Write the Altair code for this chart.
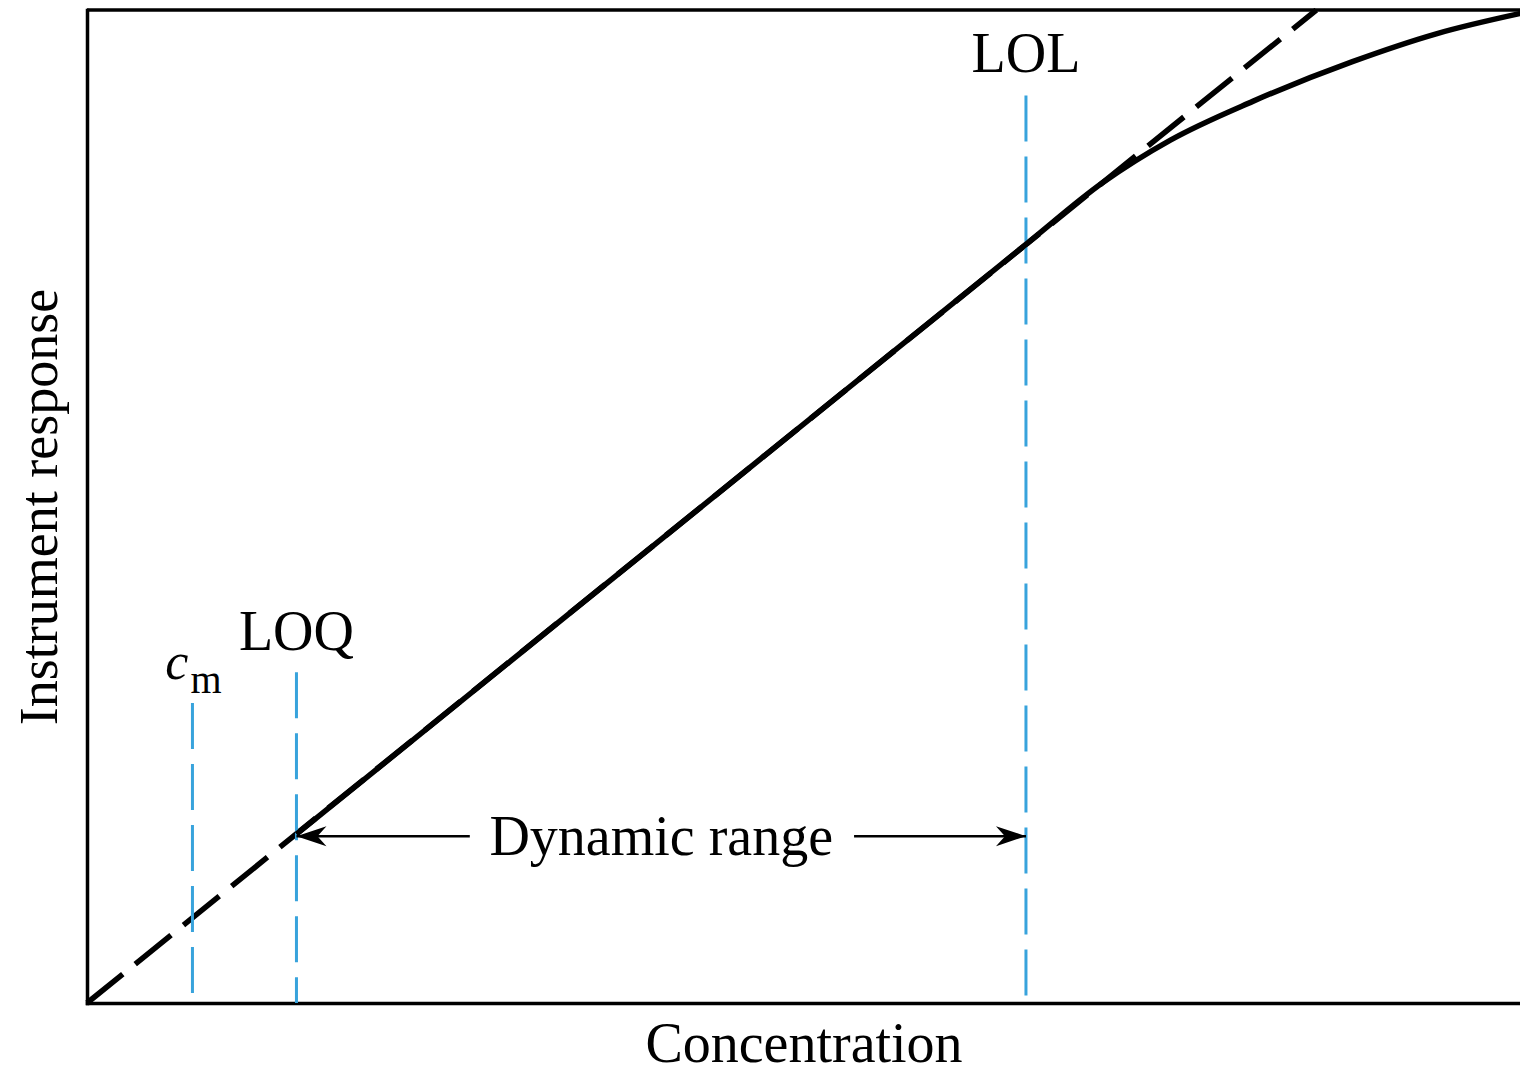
import altair as alt
import pandas as pd

# ---- data (concentration / instrument response, arbitrary units 0-100) ----
# straight calibration line through the origin (dashed extrapolation)
line_x = [0.0, 85.1]
line_y = [0.0, 100.0]

# measured response curve: linear from LOQ to LOL, then bending over
curve_x = [14.5, 65.0, 70.3, 75.0, 80.7, 87.6, 93.4, 99.7]
curve_y = [17.0, 76.4, 82.6, 86.9, 90.8, 94.8, 97.6, 99.8]

# vertical marker lines (c_m, LOQ, LOL)
marker_names = ["cm", "LOQ", "LOL"]
marker_x = [7.3, 14.5, 65.0]
marker_top = [30.2, 33.3, 91.4]

# dynamic-range arrows
arrow_y = 16.8
arrow_left_x = [14.5, 26.5]
arrow_right_x = [53.1, 65.0]

# labels
label_text = ["LOL", "LOQ", "Dynamic range"]
label_x = [65.0, 14.5, 39.75]
label_y = [93.8, 35.5, 14.9]
cm_label_x = 7.3
cm_label_y = 32.6

X_DOMAIN = [0, 99.2]
Y_DOMAIN = [0, 100]
W, H = 1433, 993
FONT = "Liberation Serif"

xs = alt.Scale(domain=X_DOMAIN, nice=False, zero=False)
ys = alt.Scale(domain=Y_DOMAIN, nice=False, zero=False)

x_axis = alt.Axis(
    title="Concentration", domain=True, domainColor="black", domainWidth=3.5,
    domainCap="square", ticks=False, labels=False, grid=False,
    titleFont=FONT, titleFontSize=56, titleFontWeight="normal", titleColor="black",
    titleX=W / 2, titleY=58, titleBaseline="alphabetic", titleAlign="center",
)
y_axis = alt.Axis(
    title="Instrument response", domain=True, domainColor="black", domainWidth=3.5,
    domainCap="square", ticks=False, labels=False, grid=False,
    titleFont=FONT, titleFontSize=54, titleFontWeight="normal", titleColor="black",
    titleX=-31, titleY=H / 2, titleAngle=270, titleBaseline="alphabetic",
    titleAlign="center",
)


def ex(field):
    return alt.X(field, type="quantitative", scale=xs, axis=x_axis)


def ey(field):
    return alt.Y(field, type="quantitative", scale=ys, axis=y_axis)


line_df = pd.DataFrame({"x": line_x, "y": line_y})
curve_df = pd.DataFrame({"x": curve_x, "y": curve_y})
marker_df = pd.DataFrame({"name": marker_names, "x": marker_x, "y": marker_top,
                          "bottom": [0.0] * len(marker_x)})
arrow_df = pd.DataFrame({
    "seg": ["left", "left", "right", "right"],
    "x": arrow_left_x + arrow_right_x,
    "y": [arrow_y] * 4,
})
head_left_df = pd.DataFrame({"x": [arrow_left_x[0]], "y": [arrow_y]})
head_right_df = pd.DataFrame({"x": [arrow_right_x[1]], "y": [arrow_y]})
label_df = pd.DataFrame({"text": label_text, "x": label_x, "y": label_y})
cm_df = pd.DataFrame({"x": [cm_label_x], "y": [cm_label_y]})
border_df = pd.DataFrame({"x": [X_DOMAIN[0]], "x2": [X_DOMAIN[1]], "y": [Y_DOMAIN[1]]})

dashed = alt.Chart(line_df).mark_line(
    color="black", strokeWidth=5.5, strokeDash=[46, 16]
).encode(x=ex("x"), y=ey("y"))

top_border = alt.Chart(border_df).mark_rule(
    color="black", strokeWidth=3.5
).encode(x=ex("x"), x2="x2:Q", y=ey("y"))

markers = alt.Chart(marker_df).mark_rule(
    color="#38a3dc", strokeWidth=3, strokeDash=[46, 15]
).encode(x=ex("x"), y=ey("y"), y2="bottom:Q")

curve = alt.Chart(curve_df).mark_line(
    color="black", strokeWidth=5.5, interpolate="monotone", clip=True
).encode(x=ex("x"), y=ey("y"))

arrows = alt.Chart(arrow_df).mark_line(color="black", strokeWidth=2.5).encode(
    x=ex("x"), y=ey("y"), detail="seg:N",
)

head_left = alt.Chart(head_left_df).mark_point(
    shape="M0,0 L2,-0.67 L1.4,0 L2,0.67 Z", size=900, filled=True,
    color="black", opacity=1, strokeWidth=0,
).encode(x=ex("x"), y=ey("y"))
head_right = alt.Chart(head_right_df).mark_point(
    shape="M0,0 L-2,-0.67 L-1.4,0 L-2,0.67 Z", size=900, filled=True,
    color="black", opacity=1, strokeWidth=0,
).encode(x=ex("x"), y=ey("y"))

labels = alt.Chart(label_df).mark_text(
    font=FONT, fontSize=56, color="black", align="center", baseline="alphabetic"
).encode(x=ex("x"), y=ey("y"), text="text:N")

cm_c = alt.Chart(cm_df).mark_text(
    text="c", font=FONT, fontSize=52, fontStyle="italic", color="black",
    align="right", baseline="alphabetic", dx=-4,
).encode(x=ex("x"), y=ey("y"))
cm_m = alt.Chart(cm_df).mark_text(
    text="m", font=FONT, fontSize=40, color="black",
    align="left", baseline="alphabetic", dx=-2, dy=14,
).encode(x=ex("x"), y=ey("y"))

chart = alt.layer(
    dashed, top_border, markers, curve, arrows, head_left, head_right,
    labels, cm_c, cm_m,
).properties(
    width=W, height=H,
    padding={"left": 79, "top": 2, "right": 0, "bottom": 70},
    autosize=alt.AutoSizeParams(type="none"),
    background="white",
).configure_view(stroke=None)

chart.save("out.html", embed_options={"renderer": "svg", "actions": False})
